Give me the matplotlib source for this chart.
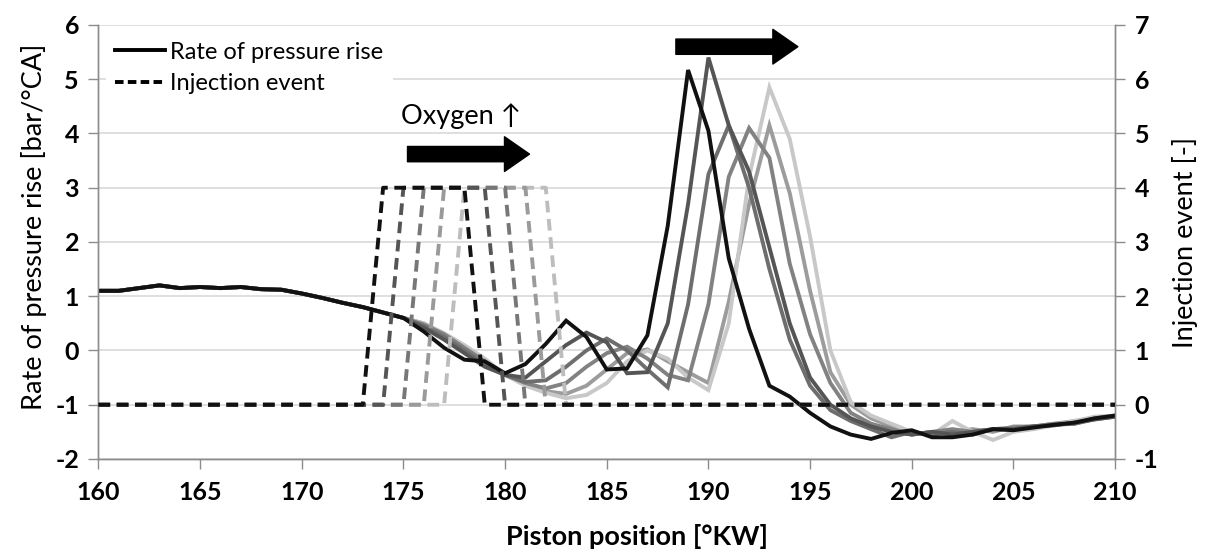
import numpy as np
import matplotlib
matplotlib.use("Agg")
import matplotlib.pyplot as plt

plt.rcParams['font.family'] = ['Lato', 'DejaVu Sans']
plt.rcParams['axes.unicode_minus'] = False

# crank angle positions
pos = np.arange(160, 211)

pre = [1.10, 1.10, 1.15, 1.20, 1.15, 1.17, 1.15, 1.17, 1.13, 1.12, 1.05, 0.97, 0.88, 0.80, 0.70, 0.60]

# rate of pressure rise, 176..210 for each oxygen level
rise_1 = [0.35, 0.05, -0.17, -0.20, -0.42, -0.25, 0.12, 0.55, 0.25, -0.35, -0.33, 0.28, 2.30, 5.17, 4.05, 1.70, 0.40,
          -0.65, -0.85, -1.15, -1.40, -1.55, -1.63, -1.52, -1.47, -1.60, -1.60, -1.55, -1.45, -1.47, -1.42, -1.37, -1.33, -1.25, -1.20]
rise_2 = [0.42, 0.20, -0.05, -0.30, -0.45, -0.50, -0.20, 0.10, 0.33, 0.15, -0.42, -0.40, 0.50, 2.70, 5.40, 4.15, 3.30,
          1.90, 0.50, -0.50, -1.00, -1.25, -1.40, -1.50, -1.55, -1.50, -1.55, -1.50, -1.45, -1.45, -1.40, -1.38, -1.33, -1.27, -1.22]
rise_3 = [0.45, 0.25, 0.00, -0.25, -0.45, -0.58, -0.55, -0.30, 0.00, 0.22, 0.00, -0.35, -0.68, 0.85, 3.25, 4.15, 3.00,
          1.50, 0.20, -0.65, -1.10, -1.30, -1.45, -1.60, -1.50, -1.55, -1.50, -1.55, -1.45, -1.45, -1.40, -1.37, -1.35, -1.27, -1.22]
rise_4 = [0.48, 0.30, 0.05, -0.20, -0.45, -0.60, -0.70, -0.60, -0.30, -0.05, 0.07, -0.15, -0.45, -0.55, 0.85, 3.20, 4.10,
          3.55, 1.60, 0.30, -0.60, -1.15, -1.35, -1.45, -1.55, -1.50, -1.45, -1.50, -1.45, -1.42, -1.40, -1.35, -1.35, -1.25, -1.20]
rise_5 = [0.50, 0.32, 0.10, -0.15, -0.45, -0.65, -0.78, -0.88, -0.82, -0.60, -0.20, 0.00, -0.15, -0.50, -0.73, 0.50, 3.20,
          4.85, 3.90, 2.10, 0.00, -0.95, -1.20, -1.35, -1.50, -1.55, -1.30, -1.50, -1.65, -1.50, -1.45, -1.38, -1.30, -1.22, -1.20]
rise_6 = [0.50, 0.30, 0.08, -0.20, -0.45, -0.62, -0.75, -0.80, -0.65, -0.35, -0.05, 0.02, -0.20, -0.40, -0.60, 0.90, 2.70,
          4.15, 2.90, 1.10, -0.40, -1.00, -1.25, -1.40, -1.55, -1.50, -1.50, -1.45, -1.50, -1.40, -1.40, -1.35, -1.30, -1.25, -1.20]

rise_series = [rise_1, rise_2, rise_3, rise_4, rise_5, rise_6]
rise_colors = ['#111111', '#555555', '#6e6e6e', '#828282', '#c8c8c8', '#9c9c9c']

# injection start / end (first and last point at full signal)
inj_start = [174, 175, 176, 177, 178]
inj_end = [178, 179, 180, 181, 182]
inj_level = 4
inj_colors = ['#111111', '#555555', '#777777', '#9a9a9a', '#bdbdbd']

fig = plt.figure(figsize=(12.14, 5.53), dpi=100)
ax = fig.add_axes([0.0811, 0.170, 0.8374, 0.7848])
ax2 = ax.twinx()

for i in range(len(rise_series) - 1, -1, -1):
    y = pre + rise_series[i]
    ax.plot(pos, y, color=rise_colors[i], lw=2.8, solid_joinstyle='miter', zorder=3)

for i in range(len(inj_start) - 1, -1, -1):
    sig = np.where((pos >= inj_start[i]) & (pos <= inj_end[i]), inj_level, 0)
    ax2.plot(pos, sig, color=inj_colors[i], lw=2.8, dashes=(3.0, 1.7), zorder=3)

ax.set_xlim(160, 210)
ax.set_ylim(-2, 6)
ax2.set_ylim(-1, 7)
ax.set_xticks(np.arange(160, 211, 5))
ax.set_yticks(np.arange(-2, 7, 1))
ax2.set_yticks(np.arange(-1, 8, 1))

ax.grid(axis='y', color='#d9d9d9', lw=1.2)
ax.set_axisbelow(True)

for a in (ax, ax2):
    a.spines['top'].set_visible(False)
    for s in ('left', 'right', 'bottom'):
        a.spines[s].set_color('#8c8c8c')
        a.spines[s].set_linewidth(1.0)
    a.tick_params(direction='out', length=7, width=1.0, color='#8c8c8c', labelsize=18)
    for lab in a.get_xticklabels() + a.get_yticklabels():
        lab.set_fontweight('bold')

ax.tick_params(axis='x', pad=9)
ax.tick_params(axis='y', pad=7)
ax2.tick_params(axis='y', pad=7)

ax.set_xlabel('Piston position [°KW]', fontsize=19.5, fontweight='bold', labelpad=14, x=0.53)
ax.set_ylabel('Rate of pressure rise [bar/°CA]', fontsize=19.5, labelpad=6, y=0.535)
ax2.set_ylabel('Injection event [-]', fontsize=19.5, labelpad=10)

h1, = ax.plot([], [], color='black', lw=2.8)
h2, = ax.plot([], [], color='black', lw=2.8, dashes=(2.2, 1.1))
leg = ax2.legend([h1, h2], ['Rate of pressure rise', 'Injection event'], loc='upper left',
                 bbox_to_anchor=(0.0, 1.0), frameon=True, fontsize=17, handlelength=2.1,
                 handletextpad=0.25, labelspacing=0.45, borderaxespad=0.3)
leg.get_frame().set_edgecolor('none')
leg.get_frame().set_facecolor('white')
leg.get_frame().set_alpha(1)

ax.text(174.9, 4.32, 'Oxygen ↑', fontsize=19.5, ha='left', va='center', family=['Lato', 'DejaVu Sans'])

arrow_style = dict(arrowstyle='simple,head_length=0.9,head_width=1.25,tail_width=0.55',
                   color='black', shrinkA=0, shrinkB=0, mutation_scale=20)
ax.annotate('', xy=(181.2, 3.62), xytext=(175.2, 3.62), arrowprops=arrow_style)
ax.annotate('', xy=(194.4, 5.6), xytext=(188.4, 5.6), arrowprops=arrow_style)

fig.savefig('out.png', dpi=100)
